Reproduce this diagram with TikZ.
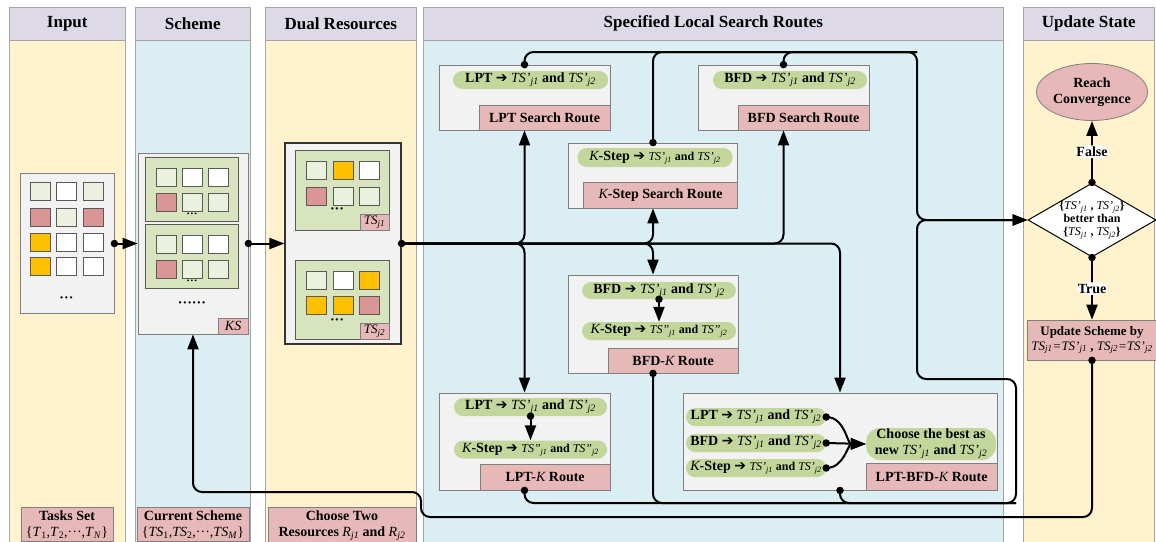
\documentclass[tikz,border=0pt]{standalone}
\usepackage{fontspec}
\setmainfont{Liberation Serif}
\newfontfamily\symfont{DejaVu Sans}
\usetikzlibrary{shapes.geometric,arrows.meta,positioning}
\definecolor{ink}{HTML}{000000}
\definecolor{headfill}{HTML}{DDD9E6}
\definecolor{warm}{HTML}{FFF2CC}
\definecolor{cool}{HTML}{DBEEF4}
\definecolor{panel}{HTML}{F2F2F2}
\definecolor{rim}{HTML}{7F7F7F}
\definecolor{cellrim}{HTML}{595959}
\definecolor{gridfill}{HTML}{D7E4BD}
\definecolor{lgreen}{HTML}{EBF1DE}
\definecolor{rose}{HTML}{D99694}
\definecolor{gold}{HTML}{FFC000}
\definecolor{tagfill}{HTML}{E6B9B8}
\definecolor{pillfill}{HTML}{C3D69B}
\newcommand{\ts}[2]{{\normalfont\itshape TS#1\textsubscript{j#2}}}
\newcommand{\kk}{{\normalfont\itshape K}}
\newcommand{\goes}{{\symfont\char"2794}}

\begin{document}
\begin{tikzpicture}[
  x=1pt, y=-1pt, color=ink, font=\fontsize{14}{16}\selectfont\bfseries,
  colbody/.style={draw=rim!70, line width=0.6pt, anchor=north west, minimum height=510pt, inner sep=0pt},
  head/.style={draw=rim!70, fill=headfill, line width=0.6pt, anchor=north west, minimum height=33pt,
               inner sep=0pt, font=\fontsize{17}{19}\selectfont\bfseries},
  panelbox/.style={draw=rim, fill=panel, line width=0.8pt, inner sep=0pt},
  gridbox/.style={draw=cellrim, fill=gridfill, line width=0.8pt, minimum width=93pt, inner sep=0pt},
  sq/.style={draw=cellrim, line width=0.8pt, minimum width=20pt, minimum height=18pt, inner sep=0pt},
  route/.style={draw=rim, fill=panel, line width=0.8pt, inner sep=0pt},
  routetag/.style={draw=rim, fill=tagfill, line width=0.6pt, inner sep=2pt, anchor=south east},
  pill/.style={fill=pillfill, rounded corners=9pt, minimum height=18pt, inner sep=0pt},
  dot/.style={circle, fill=ink, inner sep=0pt, minimum size=7.5pt},
  flow/.style={-{Triangle[length=15pt, width=11pt]}, line width=2pt, rounded corners=9pt},
  link/.style={line width=2pt, rounded corners=9pt},
  lbl/.style={fill=white, inner sep=1.5pt},
]
\useasboundingbox (0,0) rectangle (1156,541);
\clip (0,0) rectangle (1156,541);

% ---- columns ----
\node[colbody, fill=warm, minimum width=116pt] (cin) at (9,40) {};
\node[head, minimum width=116pt] (hin) at (9,7) {Input};
\node[colbody, fill=cool, minimum width=115pt] (csc) at (135,40) {};
\node[head, minimum width=115pt] (hsc) at (135,7) {Scheme};
\node[colbody, fill=warm, minimum width=151pt] (cdu) at (265,40) {};
\node[head, minimum width=151pt] (hdu) at (265,7) {Dual Resources};
\node[colbody, fill=cool, minimum width=580pt] (csp) at (423,40) {};
\node[head, minimum width=580pt] (hsp) at (423,7) {Specified Local Search Routes};
\node[colbody, fill=warm, minimum width=131pt] (cup) at (1023,40) {};
\node[head, minimum width=131pt] (hup) at (1023,7) {Update State};

% ---- input tasks ----
\node[panelbox, minimum width=94pt, minimum height=140pt] (inbox) at (67,243.5) {};
\node[sq, fill=lgreen] (i11) at (40,191.5) {}; \node[sq, fill=white] (i12) at (66.5,191.5) {}; \node[sq, fill=lgreen] (i13) at (93,191.5) {};
\node[sq, fill=rose] (i21) at (40,217) {}; \node[sq, fill=lgreen] (i22) at (66.5,217) {}; \node[sq, fill=rose] (i23) at (93,217) {};
\node[sq, fill=gold] (i31) at (40,242) {}; \node[sq, fill=white] (i32) at (66.5,242) {}; \node[sq, fill=white] (i33) at (93,242) {};
\node[sq, fill=gold] (i41) at (40,266) {}; \node[sq, fill=white] (i42) at (66.5,266) {}; \node[sq, fill=white] (i43) at (93,266) {};
\node (idots) at (66.5,300) {···};

% ---- current scheme KS ----
\node[panelbox, minimum width=110pt, minimum height=181pt] (ksbox) at (193,243.5) {};
\node[gridbox, minimum height=64pt] (kg1) at (191.5,189) {};
\node[sq, fill=lgreen] (a11) at (166,177) {}; \node[sq, fill=white] (a12) at (192,177) {}; \node[sq, fill=white] (a13) at (218.5,177) {};
\node[sq, fill=rose] (a21) at (166,202) {}; \node[sq, fill=lgreen] (a22) at (192,202) {}; \node[sq, fill=lgreen] (a23) at (218.5,202) {};
\node[font=\fontsize{11}{12}\selectfont\bfseries] (kd1) at (192,215) {···};
\node[gridbox, minimum height=64pt] (kg2) at (191.5,256) {};
\node[sq, fill=lgreen] (b11) at (166,244) {}; \node[sq, fill=white] (b12) at (192,244) {}; \node[sq, fill=white] (b13) at (218.5,244) {};
\node[sq, fill=rose] (b21) at (166,269) {}; \node[sq, fill=lgreen] (b22) at (192,269) {}; \node[sq, fill=lgreen] (b23) at (218.5,269) {};
\node[font=\fontsize{11}{12}\selectfont\bfseries] (kd2) at (192,282) {···};
\node (kd3) at (192,305) {······};
\node[routetag, minimum width=30pt, minimum height=16pt, inner sep=0pt, font=\fontsize{14}{16}\selectfont] (kstag) at (ksbox.south east) {\textit{KS}};

% ---- dual resources ----
\node[panelbox, draw=ink!80, line width=1.2pt, minimum width=116pt, minimum height=201pt] (dualbox) at (343,243.5) {};
\node[gridbox, minimum width=94pt, minimum height=80pt] (dg1) at (342,190) {};
\node[sq, fill=lgreen] (c11) at (316,170) {}; \node[sq, fill=gold] (c12) at (343,170) {}; \node[sq, fill=white] (c13) at (369.5,170) {};
\node[sq, fill=rose] (c21) at (316,196) {}; \node[sq, fill=lgreen] (c22) at (343,196) {}; \node[sq, fill=lgreen] (c23) at (369.5,196) {};
\node (dd1) at (337,211) {···};
\node[routetag, minimum width=29pt, minimum height=16pt, inner sep=0pt, font=\fontsize{13}{15}\selectfont] (dt1) at (dg1.south east) {\ts{}{1}};
\node[gridbox, minimum width=94pt, minimum height=79pt] (dg2) at (342,299.5) {};
\node[sq, fill=lgreen] (e11) at (316,280) {}; \node[sq, fill=white] (e12) at (343,280) {}; \node[sq, fill=gold] (e13) at (369.5,280) {};
\node[sq, fill=gold] (e21) at (316,305) {}; \node[sq, fill=gold] (e22) at (343,305) {}; \node[sq, fill=rose] (e23) at (369.5,305) {};
\node (dd2) at (337,322) {···};
\node[routetag, minimum width=29pt, minimum height=16pt, inner sep=0pt, font=\fontsize{13}{15}\selectfont] (dt2) at (dg2.south east) {\ts{}{2}};

% ---- search routes ----
\node[route, minimum width=171pt, minimum height=65pt] (lpt) at (524.5,97.5) {};
\node[routetag, minimum width=131pt, minimum height=25pt] (lpttag) at (lpt.south east) {LPT Search Route};
\node[pill, minimum width=155pt] (lptpill) at (530.5,80) {LPT \goes\ \ts{'}{1} and \ts{'}{2}};

\node[route, minimum width=169pt, minimum height=65pt] (kstep) at (653,175.5) {};
\node[routetag, minimum width=154pt, minimum height=26pt] (ksteptag) at (kstep.south east) {\kk-Step Search Route};
\node[pill, minimum width=155pt, minimum height=19pt] (kpill) at (655,157.5) {\kk-Step \goes\ {\fontsize{12}{14}\selectfont\ts{'}{1} and \ts{'}{2}}};

\node[route, minimum width=171pt, minimum height=65pt] (bfd) at (783.5,97.5) {};
\node[routetag, minimum width=131pt, minimum height=25pt] (bfdtag) at (bfd.south east) {BFD Search Route};
\node[pill, minimum width=154pt] (bfdpill) at (790,80) {BFD \goes\ \ts{'}{1} and \ts{'}{2}};

\node[route, minimum width=170pt, minimum height=98pt] (bfdk) at (653,324) {};
\node[routetag, minimum width=130pt, minimum height=25pt] (bfdktag) at (bfdk.south east) {BFD-\kk\ Route};
\node[pill, minimum width=154pt, minimum height=17pt] (bk1) at (659,290.5) {BFD \goes\ \ts{'}{1} and \ts{'}{2}};
\node[pill, minimum width=154pt] (bk2) at (659,331) {\kk-Step \goes\ {\fontsize{12}{14}\selectfont\ts{''}{1} and \ts{''}{2}}};

\node[route, minimum width=171pt, minimum height=97pt] (lptk) at (524.5,441.5) {};
\node[routetag, minimum width=130pt, minimum height=26pt] (lptktag) at (lptk.south east) {LPT-\kk\ Route};
\node[pill, minimum width=153pt] (lk1) at (530.5,407) {LPT \goes\ \ts{'}{1} and \ts{'}{2}};
\node[pill, minimum width=153pt] (lk2) at (530.5,449.5) {\kk-Step \goes\ {\fontsize{12}{14}\selectfont\ts{''}{1} and \ts{''}{2}}};

\node[route, minimum width=314pt, minimum height=97pt] (lbk) at (840,441.5) {};
\node[routetag, minimum width=131pt, minimum height=27pt] (lbktag) at (lbk.south east) {LPT-BFD-\kk\ Route};
\node[pill, minimum width=140pt] (lb1) at (756,417) {LPT \goes\ \ts{'}{1} and \ts{'}{2}};
\node[pill, minimum width=140pt] (lb2) at (756,443) {BFD \goes\ \ts{'}{1} and \ts{'}{2}};
\node[pill, minimum width=140pt] (lb3) at (756,468) {\kk-Step \goes\ {\fontsize{12}{14}\selectfont\ts{'}{1} and \ts{'}{2}}};
\node[pill, minimum width=130pt, minimum height=32pt, rounded corners=14pt, align=center] (choose) at (931,444)
  {Choose the best as\\new \ts{'}{1} and \ts{'}{2}};

% ---- update state ----
\node[ellipse, draw=rim, fill=tagfill, line width=0.8pt, minimum width=111pt, minimum height=57pt,
      inner sep=0pt, align=center] (conv) at (1092,92) {Reach\\Convergence};
\node[diamond, draw=ink, fill=white, line width=1pt, minimum width=128pt, minimum height=74pt, inner sep=0pt] (dia) at (1092,220) {};
\node[align=center, font=\fontsize{12}{13}\selectfont\bfseries] (diatext) at (dia.center)
  {\{\ts{'}{1} , \ts{'}{2}\}\\better than\\\{\ts{}{1} , \ts{}{2}\}};
\node[draw=rim, fill=tagfill, line width=0.6pt, minimum width=130pt, minimum height=40pt, inner sep=0pt,
      align=center, font=\fontsize{13}{15}\selectfont\bfseries] (upd) at (1092,340)
  {Update Scheme by\\{\normalfont\itshape TS\textsubscript{j1}=TS'\textsubscript{j1}} , {\normalfont\itshape TS\textsubscript{j2}=TS'\textsubscript{j2}}};

% ---- bottom captions ----
\node[routetag, anchor=north, minimum width=92pt, inner sep=3pt, align=center] (tasks) at (67,507)
  {Tasks Set\\{\normalfont\{\textit{T}\textsubscript{1},\textit{T}\textsubscript{2},···,\textit{T}\textsubscript{\textit{N}}\}}};
\node[routetag, anchor=north, minimum width=112pt, inner sep=3pt, align=center] (cursch) at (193,507)
  {Current Scheme\\{\normalfont\{\textit{TS}\textsubscript{1},\textit{TS}\textsubscript{2},···,\textit{TS}\textsubscript{\textit{M}}\}}};
\node[routetag, anchor=north, minimum width=148pt, inner sep=3pt, align=center] (choosetwo) at (342,507)
  {Choose Two\\Resources {\normalfont\itshape R\textsubscript{j1}} and {\normalfont\itshape R\textsubscript{j2}}};

% ---- input -> scheme -> dual resources ----
\node[dot] (o1) at (inbox.east) {};
\draw[flow] (o1.center) -- (ksbox.west);
\node[dot] (o2) at (ksbox.east) {};
\draw[flow] (o2.center) -- (dualbox.west);
\node[dot] (hub) at (dualbox.east) {};

% ---- dual resources -> every route ----
\draw[flow] (hub.center) -| (lpt.south);
\draw[flow] (hub.center) -| (lptk.north);
\draw[flow] (hub.center) -| (kstep.south);
\draw[flow] (hub.center) -| (bfdk.north);
\draw[flow] (hub.center) -| (bfd.south);
\draw[flow] (hub.center) -| (lbk.north);

% ---- inside the combined routes ----
\node[dot] (b1) at (bk1.south) {};
\draw[flow] (b1.center) -- (bk2.north);
\node[dot] (l1) at (lk1.south) {};
\draw[flow] (l1.center) -- (lk2.north);
\node[dot] (m1) at (lb1.east) {};
\node[dot] (m2) at (lb2.east) {};
\node[dot] (m3) at (lb3.east) {};
\draw[flow] (m1.center) to[out=0, in=180] (choose.west);
\draw[flow] (m2.center) -- (choose.west);
\draw[flow] (m3.center) to[out=0, in=180] (choose.west);

% ---- routes -> comparison (upper and lower bus) ----
\coordinate (topbus) at (917,52);
\coordinate (lowbus) at (1016,503);
\coordinate (midbus) at (917,379);
\node[dot] (r1) at (lpt.north) {};
\node[dot] (r2) at (kstep.north) {};
\node[dot] (r3) at (bfd.north) {};
\draw[flow] (r1.center) |- (topbus) |- (dia.west);
\draw[link] (r2.center) |- (topbus);
\draw[link] (r3.center) |- (topbus);
\node[dot] (r4) at (lptk.south) {};
\node[dot] (r5) at (bfdk.south) {};
\node[dot] (r6) at (lbk.south) {};
\draw[flow] (r4.center) |- (lowbus) |- (midbus) |- (dia.west);
\draw[link] (r5.center) |- (lowbus);
\draw[link] (r6.center) |- (lowbus);

% ---- decision ----
\node[dot] (q1) at (dia.north) {};
\draw[flow] (q1.center) -- node[lbl] {False} (conv.south);
\node[dot] (q2) at (dia.south) {};
\draw[flow] (q2.center) -- node[lbl] {True} (upd.north);

% ---- feedback to the current scheme ----
\coordinate (fbr) at (421,517);
\coordinate (fbl) at (193,492);
\node[dot] (r7) at (upd.south) {};
\draw[flow] (r7.center) |- (fbr) |- (fbl) -- (ksbox.south);
\end{tikzpicture}
\end{document}
